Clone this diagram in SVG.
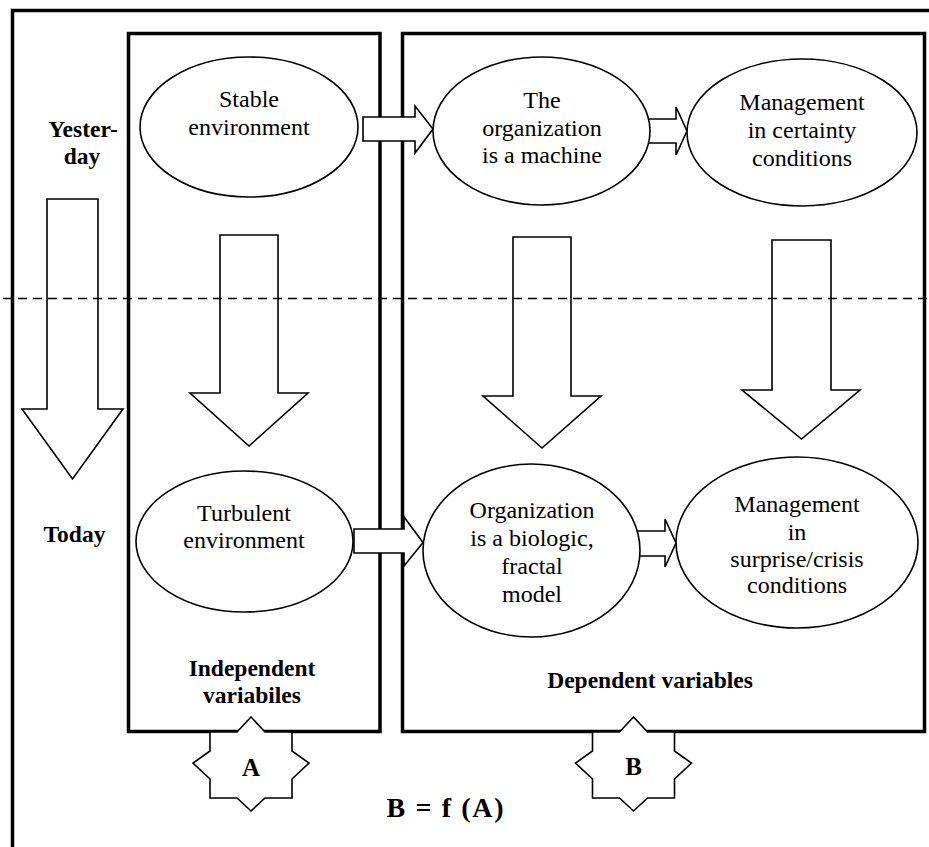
<svg xmlns="http://www.w3.org/2000/svg" width="929" height="847" viewBox="0 0 929 847">
<style>
.frame{fill:none;stroke:#000;stroke-width:3.5}
.el{fill:#fff;stroke:#000;stroke-width:1.6}
.ar{fill:#fff;stroke:#000;stroke-width:1.6;stroke-linejoin:miter}
.dash{fill:none;stroke:#000;stroke-width:1.6;stroke-dasharray:9 6}
.star{fill:#fff;stroke:#000;stroke-width:1.6}
</style>
<defs>
<polygon id="starShape" points="0,-47 -14,-32 -41,-32 -41,-13 -58,-1 -41,15 -41,34 -14,34 0,47 14,34 41,34 41,15 58,-1 41,-13 41,-32 14,-32"/>
</defs>
<rect width="929" height="847" fill="#fff"/>
<g id="frame-outer"><path class="frame" d="M12.5,850 V10.5 H932"/></g>
<g id="box-A"><rect class="frame" x="128.5" y="33.5" width="251.5" height="698"/></g>
<g id="box-B"><rect class="frame" x="402.5" y="33.5" width="522" height="698"/></g>
<g id="connectors">
<polygon class="ar" points="47,199 98,199 98,409 123,409 72.5,479 22,409 47,409"/>
<polygon class="ar" points="220,235 278,235 278,393 308,393 249,446 190,393 220,393"/>
<polygon class="ar" points="513,237 571,237 571,396 601,396 542,448 483,396 513,396"/>
<polygon class="ar" points="772,240 831,240 831,390 860,390 801.5,439 742,390 772,390"/>
<polygon class="ar" points="363,117 415,117 415,106 433,129 415,153 415,141 363,141"/>
<polygon class="ar" points="646,119 676,119 676,107 687,131 676,155 676,143 646,143"/>
<polygon class="ar" points="354,529 404,529 404,517 423,542.5 404,566 404,553 354,553"/>
<polygon class="ar" points="636,531 665,531 665,519 676,543 665,567 665,556 636,556"/>
</g>
<g font-family="'Liberation Serif', serif" font-size="24" text-anchor="middle" fill="#000">
<g id="node-stable"><ellipse class="el" cx="249" cy="127" rx="109" ry="70"/>
<text x="249" y="107">Stable</text><text x="249" y="135">environment</text></g>
<g id="node-machine"><ellipse class="el" cx="541.5" cy="131" rx="108.5" ry="74"/>
<text x="542" y="108">The</text><text x="542" y="136">organization</text><text x="542" y="163">is a machine</text></g>
<g id="node-certainty"><ellipse class="el" cx="802" cy="132.5" rx="115" ry="73.5"/>
<text x="802" y="110">Management</text><text x="802" y="138">in certainty</text><text x="802" y="165.5">conditions</text></g>
<g id="node-turbulent"><ellipse class="el" cx="244.5" cy="541.5" rx="108.5" ry="70.5"/>
<text x="244" y="521">Turbulent</text><text x="244" y="548">environment</text></g>
<g id="node-biologic"><ellipse class="el" cx="531.5" cy="550.5" rx="108.5" ry="86.5"/>
<text x="532" y="518">Organization</text><text x="532" y="546">is a biologic,</text><text x="532" y="573.5">fractal</text><text x="532" y="601.5">model</text></g>
<g id="node-crisis"><ellipse class="el" cx="797" cy="542.5" rx="121" ry="85.5"/>
<text x="797" y="512">Management</text><text x="797" y="540">in</text><text x="797" y="567">surprise/crisis</text><text x="797" y="593">conditions</text></g>
</g>
<g id="divider"><line class="dash" x1="3" y1="298.5" x2="929" y2="298.5"/></g>
<g font-family="'Liberation Serif', serif" font-size="23.5" font-weight="bold" text-anchor="middle" fill="#000">
<g id="label-yesterday"><text x="83" y="137">Yester-</text><text x="82" y="164">day</text></g>
<g id="label-today"><text x="74.5" y="542">Today</text></g>
<g id="label-independent"><text x="252" y="676">Independent</text><text x="252" y="703">variabiles</text></g>
<g id="label-dependent"><text x="650" y="688">Dependent variables</text></g>
<g id="star-A"><use href="#starShape" class="star" transform="translate(251,764)"/><text x="251" y="776" font-size="25">A</text></g>
<g id="star-B"><use href="#starShape" class="star" transform="translate(633.5,764)"/><text x="633.5" y="775" font-size="25">B</text></g>
<g id="formula"><text x="445" y="817" font-size="28" textLength="117" lengthAdjust="spacing">B = f (A)</text></g>
</g>
</svg>
